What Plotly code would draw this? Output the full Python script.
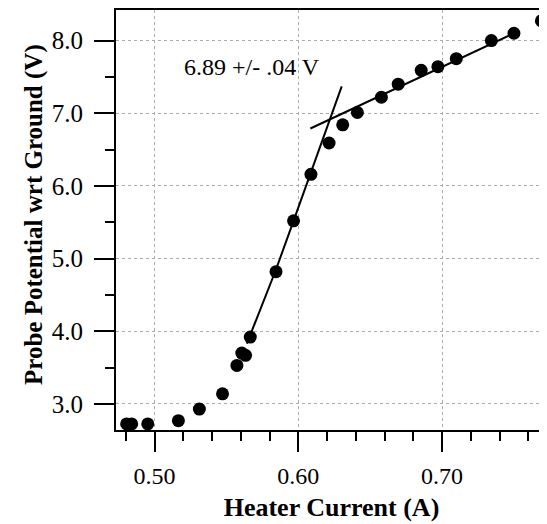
import plotly.graph_objects as go

# Measured data points
current = [0.4806, 0.4841, 0.4953, 0.5166, 0.5312, 0.5473, 0.5573, 0.5607, 0.5633,
           0.5666, 0.5845, 0.5967, 0.6088, 0.6214, 0.6309, 0.6411, 0.6578, 0.6695,
           0.6855, 0.6971, 0.7099, 0.7343, 0.7500, 0.7691]
potential = [2.725, 2.725, 2.725, 2.77, 2.93, 3.14, 3.53, 3.70, 3.67,
             3.92, 4.82, 5.52, 6.16, 6.59, 6.84, 7.01, 7.22, 7.40,
             7.59, 7.64, 7.75, 8.00, 8.10, 8.27]

# Fit lines
steep_x = [0.5642, 0.5845, 0.5967, 0.6088, 0.6302]
steep_y = [3.83, 4.85, 5.52, 6.18, 7.37]
shallow_x = [0.6084, 0.7500]
shallow_y = [6.79, 8.10]

annotation_text = "6.89 +/- .04 V"
x_title = "Heater Current (A)"
y_title = "Probe Potential wrt Ground (V)"

FONT = "Liberation Serif"

fig = go.Figure()
fig.add_trace(go.Scatter(x=steep_x, y=steep_y, mode="lines",
                         line=dict(color="black", width=2), showlegend=False))
fig.add_trace(go.Scatter(x=shallow_x, y=shallow_y, mode="lines",
                         line=dict(color="black", width=2), showlegend=False))
fig.add_trace(go.Scatter(x=current, y=potential, mode="markers",
                         marker=dict(color="black", size=13), showlegend=False))

fig.add_annotation(x=0.5677, y=7.64, text=annotation_text, showarrow=False,
                   xanchor="center", yanchor="middle",
                   font=dict(family=FONT, size=24, color="black"))

# y-axis title as rotated text (paper coords: plot area spans 431 x 420 px)
fig.add_annotation(xref="paper", yref="paper", x=-82 / 431, y=215 / 420,
                   text="<b>" + y_title + "</b>", textangle=-90, showarrow=False,
                   xanchor="center", yanchor="middle",
                   font=dict(family=FONT, size=25, color="black"))

# page body has an 8px default margin, so the figure is sized to fill the rest
fig.update_layout(
    width=539, height=516,
    margin=dict(l=108, r=0, t=2, b=94),
    paper_bgcolor="white", plot_bgcolor="white",
    font=dict(family=FONT, color="black"),
)
fig.update_xaxes(
    range=[0.4732, 0.773], tick0=0.5, dtick=0.1, tickformat=".2f",
    automargin=False,
    ticks="outside", ticklen=20, tickwidth=2, tickcolor="black",
    ticklabelstandoff=3,
    showline=True, linewidth=2, linecolor="black", mirror=True,
    showgrid=True, gridcolor="#ababab", griddash="dot", gridwidth=1,
    zeroline=False,
    tickfont=dict(family=FONT, size=24, color="black"),
    minor=dict(dtick=0.02, tick0=0.5, ticks="outside", ticklen=9, tickwidth=2,
               tickcolor="black", showgrid=False),
    title=dict(text="<b>" + x_title + "</b>", font=dict(family=FONT, size=26, color="black"),
               standoff=10),
)
fig.update_yaxes(
    range=[2.642, 8.42], tick0=3, dtick=1, tickformat=".1f",
    automargin=False,
    ticks="outside", ticklen=20, tickwidth=2, tickcolor="black",
    ticklabelstandoff=6,
    showline=True, linewidth=2, linecolor="black", mirror=False,
    showgrid=True, gridcolor="#ababab", griddash="dot", gridwidth=1,
    zeroline=False,
    tickfont=dict(family=FONT, size=25, color="black"),
    minor=dict(dtick=0.5, tick0=3, ticks="outside", ticklen=9, tickwidth=2,
               tickcolor="black", showgrid=False),
)

fig.write_html("out.html")
